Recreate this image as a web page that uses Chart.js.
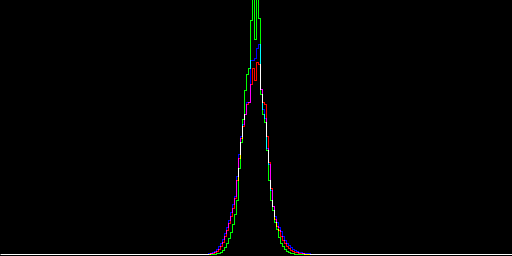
<!DOCTYPE html>
<html>
<head>
<meta charset="utf-8">
<script src="https://cdn.jsdelivr.net/npm/chart.js@4/dist/chart.umd.min.js"></script>
<style>
  html, body { margin: 0; padding: 0; background: #000; }
  #wrap { width: 512px; height: 256px; position: relative; }
</style>
</head>
<body>
<div id="wrap"><canvas id="histChart"></canvas></div>
<script>
// Histogram bins 0..255 (counts, scaled to pixel height)
const redCounts = [
  0,0,0,0,0,0,0,0,0,0,0,0,0,0,0,0,
  0,0,0,0,0,0,0,0,0,0,0,0,0,0,0,0,
  0,0,0,0,0,0,0,0,0,0,0,0,0,0,0,0,
  0,0,0,0,0,0,0,0,0,0,0,0,0,0,0,0,
  0,0,0,0,0,0,0,0,0,0,0,0,0,0,0,0,
  0,0,0,0,0,0,0,0,0,0,0,0,0,0,0,0,
  0,0,0,0,0,0,0,0,0,0,1,1,2,3,5,8,
  12,18,24,31,38,46,56,74,96,116,128,140,150,152,170,186,
  174,192,190,165,152,150,118,92,66,48,35,28,24,18,14,11,
  8,6,4,3,2,2,1,1,1,0,0,0,0,0,0,0,
  0,0,0,0,0,0,0,0,0,0,0,0,0,0,0,0,
  0,0,0,0,0,0,0,0,0,0,0,0,0,0,0,0,
  0,0,0,0,0,0,0,0,0,0,0,0,0,0,0,0,
  0,0,0,0,0,0,0,0,0,0,0,0,0,0,0,0,
  0,0,0,0,0,0,0,0,0,0,0,0,0,0,0,0,
  0,0,0,0,0,0,0,0,0,0,0,0,0,0,0,0
];
const greenCounts = [
  0,0,0,0,0,0,0,0,0,0,0,0,0,0,0,0,
  0,0,0,0,0,0,0,0,0,0,0,0,0,0,0,0,
  0,0,0,0,0,0,0,0,0,0,0,0,0,0,0,0,
  0,0,0,0,0,0,0,0,0,0,0,0,0,0,0,0,
  0,0,0,0,0,0,0,0,0,0,0,0,0,0,0,0,
  0,0,0,0,0,0,0,0,0,0,0,0,0,0,0,0,
  0,0,0,0,0,0,0,0,0,0,0,0,0,1,1,2,
  4,7,11,16,22,30,40,54,86,112,135,164,180,186,234,262,
  215,262,236,160,140,132,104,74,54,44,32,25,17,11,8,5,
  3,2,1,1,0,0,0,0,0,0,0,0,0,0,0,0,
  0,0,0,0,0,0,0,0,0,0,0,0,0,0,0,0,
  0,0,0,0,0,0,0,0,0,0,0,0,0,0,0,0,
  0,0,0,0,0,0,0,0,0,0,0,0,0,0,0,0,
  0,0,0,0,0,0,0,0,0,0,0,0,0,0,0,0,
  0,0,0,0,0,0,0,0,0,0,0,0,0,0,0,0,
  0,0,0,0,0,0,0,0,0,0,0,0,0,0,0,0
];
const blueCounts = [
  0,0,0,0,0,0,0,0,0,0,0,0,0,0,0,0,
  0,0,0,0,0,0,0,0,0,0,0,0,0,0,0,0,
  0,0,0,0,0,0,0,0,0,0,0,0,0,0,0,0,
  0,0,0,0,0,0,0,0,0,0,0,0,0,0,0,0,
  0,0,0,0,0,0,0,0,0,0,0,0,0,0,0,0,
  0,0,0,0,0,0,0,0,0,0,0,0,0,0,0,0,
  0,0,0,0,0,0,0,0,0,1,1,2,3,5,8,11,
  15,21,27,34,42,50,58,78,100,118,130,140,152,152,194,194,
  196,206,210,165,145,136,106,90,64,48,38,32,27,23,18,14,
  11,9,7,5,4,3,2,2,1,1,1,1,0,0,0,0,
  0,0,0,0,0,0,0,0,0,0,0,0,0,0,0,0,
  0,0,0,0,0,0,0,0,0,0,0,0,0,0,0,0,
  0,0,0,0,0,0,0,0,0,0,0,0,0,0,0,0,
  0,0,0,0,0,0,0,0,0,0,0,0,0,0,0,0,
  0,0,0,0,0,0,0,0,0,0,0,0,0,0,0,0,
  0,0,0,0,0,0,0,0,0,0,0,0,0,0,0,0
];

// bin i -> point at x=i, plus closing point at 256 so the last bin has width
function toSteps(counts) {
    const pts = counts.map(function(v, i) { return { x: i, y: v }; });
    pts.push({ x: counts.length, y: counts[counts.length - 1] });
    return pts;
}

function channel(label, counts, color) {
    return {
        label: label,
        data: toSteps(counts),
        borderColor: color,
        borderWidth: 1,
        pointRadius: 0,
        fill: false,
        stepped: 'after',
        tension: 0
    };
}

// black background + additive blending so overlaps mix (R+G=yellow etc.)
const additivePlugin = {
    id: 'additive',
    beforeDraw: function(chart) {
        const ctx = chart.ctx;
        ctx.save();
        ctx.fillStyle = '#000';
        ctx.fillRect(0, 0, chart.width, chart.height);
        ctx.restore();
    },
    beforeDatasetsDraw: function(chart) {
        chart.ctx.save();
        chart.ctx.globalCompositeOperation = 'lighter';
    },
    afterDatasetsDraw: function(chart) {
        chart.ctx.restore();
    }
};

const ctx = document.getElementById('histChart').getContext('2d');
new Chart(ctx, {
    type: 'line',
    data: {
        datasets: [
            channel('R', redCounts, '#ff0000'),
            channel('G', greenCounts, '#00ff00'),
            channel('B', blueCounts, '#0000ff')
        ]
    },
    options: {
        responsive: true,
        maintainAspectRatio: false,
        animation: false,
        layout: { padding: 0 },
        plugins: {
            legend: { display: false },
            tooltip: { enabled: false }
        },
        scales: {
            x: { type: 'linear', min: -0.25, max: 255.75, display: false },
            y: { type: 'linear', min: -1.5, max: 254.5, display: false }
        }
    },
    plugins: [additivePlugin]
});
</script>
</body>
</html>
